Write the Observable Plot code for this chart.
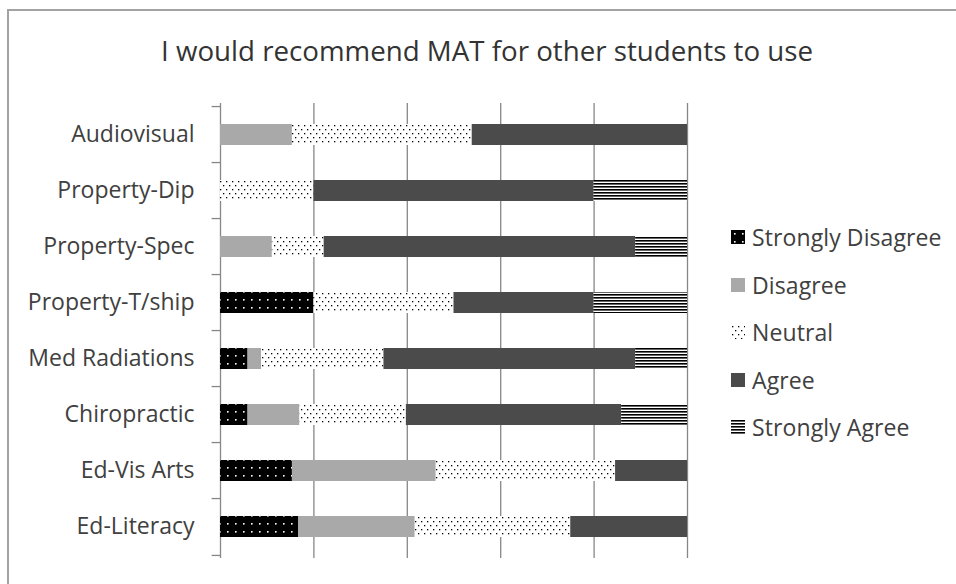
<!DOCTYPE html>
<html>
<head>
<meta charset="utf-8">
<script src="https://cdn.jsdelivr.net/npm/d3@7"></script>
<script src="https://cdn.jsdelivr.net/npm/@observablehq/plot@0.6"></script>
<style>
  html, body { margin: 0; padding: 0; background: #fff; }
  #wrap { position: relative; width: 956px; height: 584px; overflow: hidden; font-family: "Open Sans", sans-serif; }
  #frame { position: absolute; left: 7px; top: 9px; width: 1000px; height: 700px; border-left: 2px solid #a3a3a3; border-top: 2px solid #a3a3a3; }
  #title { position: absolute; left: 0; width: 974px; top: 30.5px; text-align: center; font-size: 27.7px; color: #333; white-space: nowrap; }
  #chart { position: absolute; left: 0; top: 0; }
  #legend { position: absolute; left: 731px; top: 0; }
  .item { position: absolute; left: 0; display: flex; align-items: center; white-space: nowrap; font-size: 23px; letter-spacing: 0.1px; color: #404040; }
  .item svg { margin-right: 7px; }
</style>
</head>
<body>
<svg width="0" height="0" style="position:absolute">
  <defs>
    <pattern id="pSD" patternUnits="userSpaceOnUse" width="16" height="16">
      <rect width="16" height="16" fill="#000"/>
      <rect x="3" y="3" width="1.6" height="1.6" fill="#fff"/>
      <rect x="11" y="11" width="1.6" height="1.6" fill="#fff"/>
      <rect x="3" y="11" width="1.6" height="1.6" fill="#fff"/>
      <rect x="11" y="3" width="1.6" height="1.6" fill="#fff"/>
    </pattern>
    <pattern id="pN" patternUnits="userSpaceOnUse" width="6" height="8">
      <rect width="6" height="8" fill="#fff"/>
      <rect x="1" y="1" width="1.3" height="1.3" fill="#000"/>
      <rect x="4" y="5" width="1.3" height="1.3" fill="#000"/>
    </pattern>
    <pattern id="pSA" patternUnits="userSpaceOnUse" width="6" height="3">
      <rect width="6" height="3" fill="#fff"/>
      <rect y="0" width="6" height="1.6" fill="#000"/>
    </pattern>
  </defs>
</svg>
<div id="wrap">
  <div id="frame"></div>
  <div id="title">I would recommend MAT for other students to use</div>
  <div id="chart"></div>
  <div id="legend"></div>
</div>
<script>
const categories = ["Audiovisual", "Property-Dip", "Property-Spec", "Property-T/ship", "Med Radiations", "Chiropractic", "Ed-Vis Arts", "Ed-Literacy"];
const responses = ["Strongly Disagree", "Disagree", "Neutral", "Agree", "Strongly Agree"];
const stronglyDisagree = [0, 0, 0, 20, 5.9, 5.9, 15.4, 16.7];
const disagree         = [15.4, 0, 11.1, 0, 2.9, 11.1, 30.8, 25.0];
const neutral          = [38.5, 20, 11.1, 30, 26.2, 22.8, 38.4, 33.3];
const agree            = [46.1, 60, 66.7, 30, 53.9, 46.1, 15.4, 25.0];
const stronglyAgree    = [0, 20, 11.1, 20, 11.1, 14.1, 0, 0];
const xTicks = [0, 20, 40, 60, 80, 100];
const fills = ["url(#pSD)", "#a9a9a9", "url(#pN)", "#4b4b4b", "url(#pSA)"];

const series = [stronglyDisagree, disagree, neutral, agree, stronglyAgree];
const rows = [];
categories.forEach((c, i) => {
  responses.forEach((r, j) => rows.push({category: c, response: r, value: series[j][i]}));
});

const W = 700, H = 584, mTop = 103, mBottom = 26;
const step = (H - mTop - mBottom) / categories.length;

const chart = Plot.plot({
  width: W,
  height: H,
  marginLeft: 220,
  marginRight: 13,
  marginTop: mTop,
  marginBottom: mBottom,
  style: {fontFamily: "Open Sans, sans-serif", background: "transparent"},
  x: {domain: [0, 100], axis: null},
  y: {domain: categories, paddingInner: 0.63, paddingOuter: 0.315, label: null, axis: null},
  color: {domain: responses, range: fills, type: "ordinal"},
  marks: [
    Plot.gridX(xTicks, {stroke: "#878787", strokeOpacity: 1, strokeWidth: 1.3}),
    Plot.barX(rows, Plot.stackX({y: "category", x: "value", fill: "response", order: responses})),
    Plot.ruleY(categories, {y: d => d, x1: -1.8, x2: 0, dy: -step / 2, stroke: "#878787", strokeWidth: 1.3}),
    Plot.ruleY(categories.slice(-1), {y: d => d, x1: -1.8, x2: 0, dy: step / 2, stroke: "#878787", strokeWidth: 1.3}),
    Plot.axisY({tickSize: 0, tickPadding: 26, fontSize: 23, fill: "#404040", label: null, style: {letterSpacing: "0.2px"}})
  ]
});
document.getElementById("chart").appendChild(chart);

const legend = document.getElementById("legend");
const legendTop = 237, legendGap = 47.6;
responses.forEach((r, j) => {
  const item = document.createElement("div");
  item.className = "item";
  item.style.top = (legendTop + j * legendGap - 15) + "px";
  item.style.height = "30px";
  item.innerHTML = `<svg width="14" height="14"><rect width="14" height="14" fill="${fills[j]}"/></svg><span>${r}</span>`;
  legend.appendChild(item);
});
</script>
</body>
</html>
